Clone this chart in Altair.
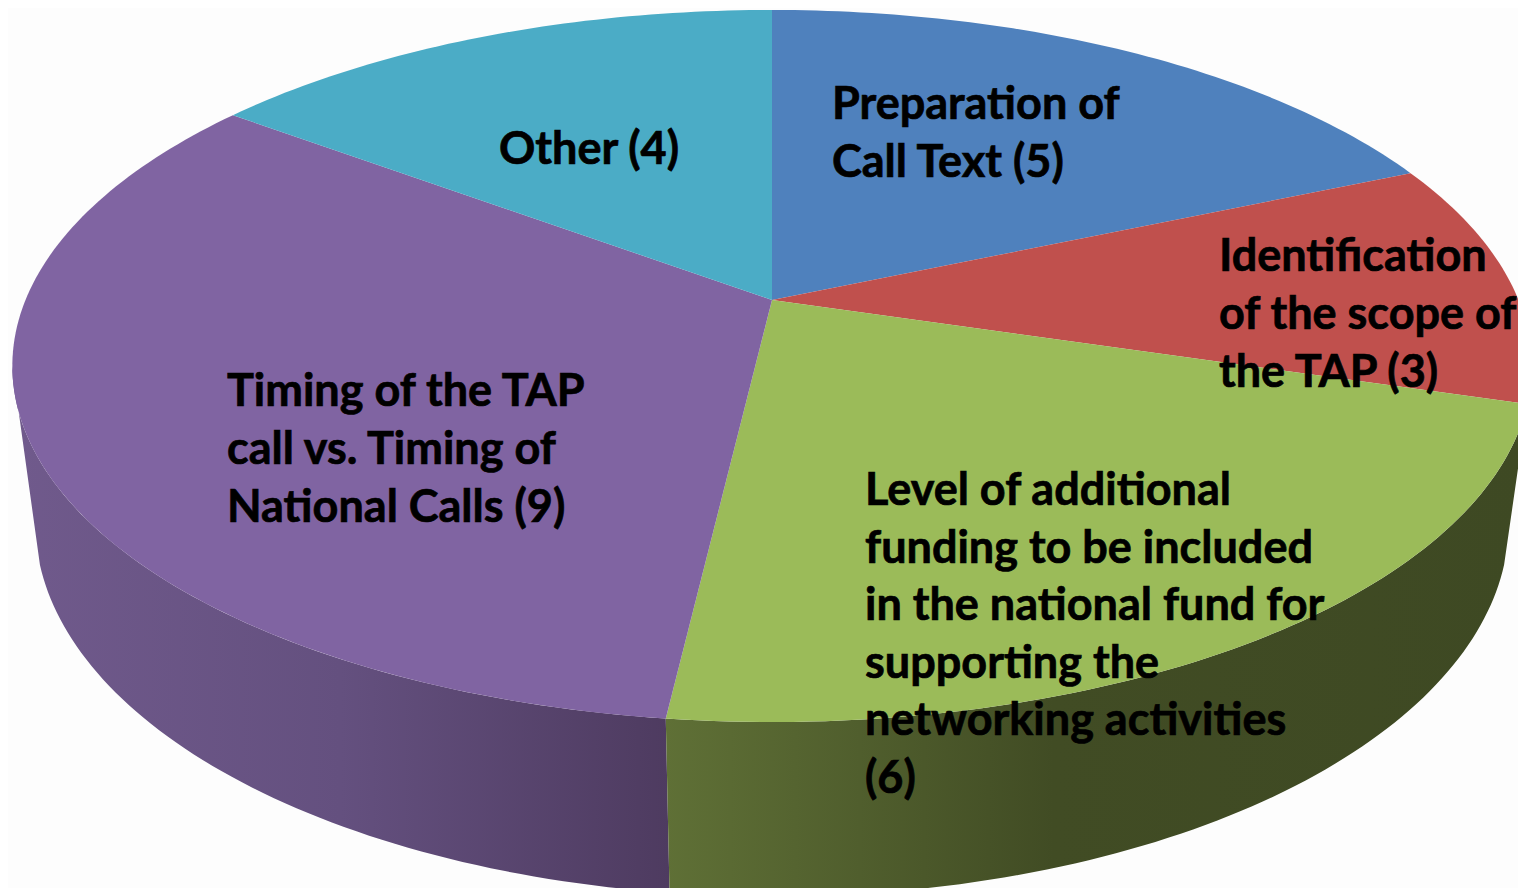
import math
import altair as alt

# ---- chart values -------------------------------------------------------
categories = [
    "Preparation of Call Text",
    "Identification of the scope of the TAP",
    "Level of additional funding to be included in the national fund for supporting the networking activities",
    "Timing of the TAP call vs. Timing of National Calls",
    "Other",
]
values = [5, 3, 6, 9, 4]
top_colors = ["#4F81BD", "#C0504D", "#9BBB59", "#8064A2", "#4BACC6"]

label_lines = [
    ["Preparation of", "Call Text (5)"],
    ["Identification", "of the scope of", "the TAP (3)"],
    ["Level of additional", "funding to be included", "in the national fund for",
     "supporting the", "networking activities", "(6)"],
    ["Timing of the TAP", "call vs. Timing of", "National Calls (9)"],
    ["Other (4)"],
]

# ---- layout (perspective of the tilted disc, label anchors) -------------
CX, CY = 772.0, 300.0
RX, RY, K = 746.5, 343.8, 0.1854
DROP_W, DROP_Y = 0.03, 160.0
LEFT_TOP, LEFT_BOTTOM = 259.3, 253.3
label_x = [832, 1219, 865, 227, 499]
label_y = [119, 271, 505, 406, 164]
line_steps = [58, 58, 57.6, 58, 58]
FONT = "Lato"
FONT_SIZE = 45


def rim(deg, bottom=False):
    t = math.radians(deg)
    u, v = math.sin(t), math.cos(t)
    w = 1 + K * v + (DROP_W if bottom else 0)
    return [CX + RX * u / w, CY + (-RY * v + (DROP_Y if bottom else 0)) / w]


def arc(a0, a1, bottom=False):
    n = max(2, int(abs(a1 - a0)))
    return [rim(a0 + (a1 - a0) * i / n, bottom) for i in range(n + 1)]


def feature(coords, name):
    return {"type": "Feature", "properties": {"category": name},
            "geometry": {"type": "Polygon", "coordinates": [coords + [coords[0]]]}}


total = sum(values)
edges = [0]
for val in values:
    edges.append(edges[-1] + val * 360 / total)

slices = []
for i, name in enumerate(categories):
    slices.append(feature([[CX, CY]] + arc(edges[i], edges[i + 1]), name))

wall_green = [feature(arc(edges[2], edges[3]) + arc(edges[3], edges[2], True), categories[2])]
wall_purple = [feature(arc(edges[3], LEFT_TOP) + arc(LEFT_BOTTOM, edges[3], True), categories[3])]

text_rows = []
for i, lines in enumerate(label_lines):
    for j, line in enumerate(lines):
        text_rows.append({"text": line, "lon": label_x[i], "lat": label_y[i] + j * line_steps[i]})

proj = alt.Projection(type="identity", scale=1, translate=[-8, -8])


def wall(features, stops):
    return alt.Chart(alt.Data(values=features)).mark_geoshape(
        strokeWidth=0,
        color=alt.Gradient(gradient="linear", x1=0, x2=1, y1=0, y2=0,
                           stops=[alt.GradientStop(color=c, offset=o) for o, c in stops]),
    ).project(**proj.to_dict())


walls_g = wall(wall_green, [(0, "#5F7036"), (0.45, "#414C24"), (1, "#3E4923")])
walls_p = wall(wall_purple, [(0, "#705A8C"), (0.5, "#64507F"), (1, "#4E3B60")])

top = alt.Chart(alt.Data(values=slices)).mark_geoshape(strokeWidth=0).encode(
    color=alt.Color("properties.category:N",
                    scale=alt.Scale(domain=categories, range=top_colors),
                    legend=None)
).project(**proj.to_dict())

labels = alt.Chart(alt.Data(values=text_rows)).mark_text(
    align="left", baseline="alphabetic", font=FONT, fontWeight="bold",
    fontSize=FONT_SIZE, color="black", stroke="black", strokeWidth=0.7,
).encode(longitude="lon:Q", latitude="lat:Q", text="text:N").project(**proj.to_dict())

chart = alt.layer(walls_p, walls_g, top, labels).properties(
    width=1510, height=880, padding=0, background="#FDFDFD",
    autosize=alt.AutoSizeParams(type="none"),
).configure_view(stroke=None)

chart.save("out.html", embed_options={"renderer": "svg", "actions": False})
